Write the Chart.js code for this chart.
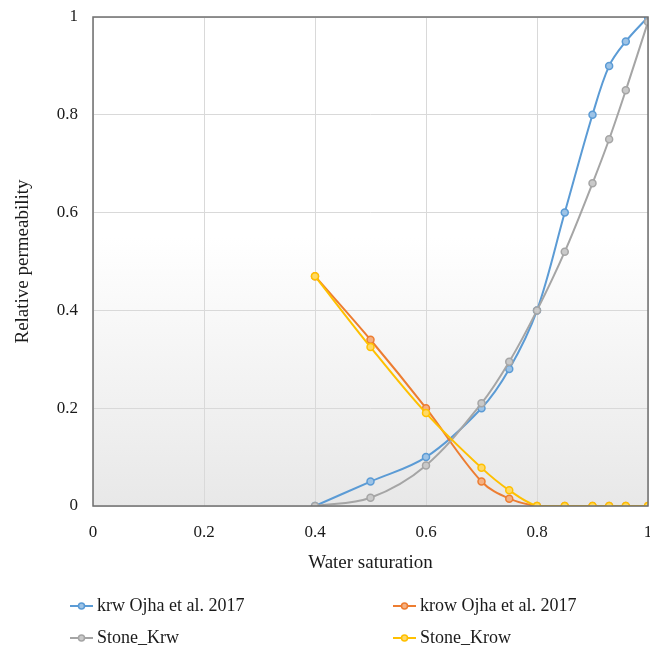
<!DOCTYPE html>
<html>
<head>
<meta charset="utf-8">
<script src="https://cdn.jsdelivr.net/npm/chart.js@4"></script>
<style>
  html, body { margin: 0; padding: 0; background: #fff; }
  #wrap { width: 650px; height: 652px; position: relative; }
</style>
</head>
<body>
<div id="wrap"><canvas id="chartPerm"></canvas></div>
<script>
const satKrw = [0.4, 0.5, 0.6, 0.7, 0.75, 0.8, 0.85, 0.9, 0.93, 0.96, 1];
const krwOjha = [0, 0.05, 0.1, 0.2, 0.28, 0.4, 0.6, 0.8, 0.9, 0.95, 1];
const krowOjha = [0.47, 0.34, 0.2, 0.05, 0.015, 0, 0, 0, 0, 0, 0];
const stoneKrw = [0, 0.017, 0.083, 0.21, 0.295, 0.4, 0.52, 0.66, 0.75, 0.85, 0.99];
const stoneKrow = [0.47, 0.325, 0.19, 0.078, 0.032, 0, 0, 0, 0, 0, 0];
const seriesNames = ["krw Ojha et al. 2017", "krow Ojha et al. 2017", "Stone_Krw", "Stone_Krow"];
const axisTicks = [0, 0.2, 0.4, 0.6, 0.8, 1];

const blueColor = "#5b9bd5";
const orangeColor = "#ed7d31";
const grayColor = "#a5a5a5";
const yellowColor = "#ffc000";
const fillColors = ["#9dc3e6", "#f4b183", "#c9c9c9", "#ffd966"];
const fontFam = "'Liberation Serif', 'Times New Roman', serif";

const toPoints = (xs, ys) => xs.map((x, i) => ({ x: x, y: ys[i] }));

function makeSet(i, values, color, order) {
  return {
    label: seriesNames[i],
    data: toPoints(satKrw, values),
    borderColor: color,
    backgroundColor: color,
    pointBackgroundColor: fillColors[i],
    pointBorderColor: color,
    pointBorderWidth: 1.5,
    pointRadius: 3.5,
    borderWidth: 2,
    tension: 0.35,
    order: order,
  };
}

function noPad(scale) {
  scale.paddingLeft = 0;
  scale.paddingRight = 0;
  scale.paddingTop = 0;
  scale.paddingBottom = 0;
}

// plot background gradient + frame
const plotBg = {
  id: "plotBg",
  beforeDraw(chart) {
    const { ctx, chartArea: a } = chart;
    const g = ctx.createLinearGradient(0, a.top, 0, a.bottom);
    g.addColorStop(0, "#ffffff");
    g.addColorStop(0.45, "#ffffff");
    g.addColorStop(1, "#e8e8e8");
    ctx.save();
    ctx.fillStyle = g;
    ctx.fillRect(a.left, a.top, a.right - a.left, a.bottom - a.top);
    ctx.restore();
  },
  afterDatasetsDraw(chart) {
    const { ctx, chartArea: a } = chart;
    ctx.save();
    ctx.strokeStyle = "#6f6f6f";
    ctx.lineWidth = 1.5;
    ctx.strokeRect(a.left, a.top, a.right - a.left, a.bottom - a.top);
    ctx.restore();
  },
};

// two column legend under the chart
const gridLegend = {
  id: "gridLegend",
  afterDraw(chart) {
    const { ctx } = chart;
    const cols = [70, 393];
    const rows = [606, 638];
    ctx.save();
    ctx.font = "18px " + fontFam;
    ctx.textBaseline = "middle";
    chart.data.datasets.forEach((ds, i) => {
      const x = cols[i % 2];
      const y = rows[Math.floor(i / 2)];
      ctx.strokeStyle = ds.borderColor;
      ctx.lineWidth = 2;
      ctx.beginPath();
      ctx.moveTo(x, y);
      ctx.lineTo(x + 23, y);
      ctx.stroke();
      ctx.beginPath();
      ctx.arc(x + 11.5, y, 3, 0, Math.PI * 2);
      ctx.fillStyle = ds.pointBackgroundColor;
      ctx.fill();
      ctx.lineWidth = 1.5;
      ctx.stroke();
      ctx.fillStyle = "#1a1a1a";
      ctx.fillText(ds.label, x + 27, y);
    });
    ctx.restore();
  },
};

const tickFmt = v => String(+Number(v).toFixed(2));

new Chart(document.getElementById("chartPerm"), {
  type: "line",
  data: {
    datasets: [
      makeSet(0, krwOjha, blueColor, 4),
      makeSet(1, krowOjha, orangeColor, 3),
      makeSet(2, stoneKrw, grayColor, 2),
      makeSet(3, stoneKrow, yellowColor, 1),
    ],
  },
  options: {
    responsive: true,
    maintainAspectRatio: false,
    animation: false,
    layout: {
      autoPadding: false,
      padding: { left: 0, top: 17, right: 2, bottom: 66 },
    },
    plugins: {
      legend: { display: false },
      tooltip: { enabled: false },
    },
    scales: {
      x: {
        type: "linear",
        min: 0,
        max: 1,
        afterFit(scale) { scale.height = 80; noPad(scale); },
        afterBuildTicks(scale) { scale.ticks = axisTicks.map(v => ({ value: v })); },
        grid: { color: "#d9d9d9", drawTicks: false },
        border: { display: false },
        ticks: {
          padding: 16,
          color: "#1a1a1a",
          font: { family: fontFam, size: 17 },
          maxRotation: 0,
          callback: tickFmt,
        },
        title: {
          display: true,
          text: "Water saturation",
          color: "#1a1a1a",
          font: { family: fontFam, size: 19 },
          padding: { top: 0, bottom: 12 },
        },
      },
      y: {
        type: "linear",
        min: 0,
        max: 1,
        afterFit(scale) { scale.width = 93; noPad(scale); },
        afterBuildTicks(scale) { scale.ticks = axisTicks.map(v => ({ value: v })); },
        grid: { color: "#d9d9d9", drawTicks: false },
        border: { display: false },
        ticks: {
          padding: 15,
          color: "#1a1a1a",
          font: { family: fontFam, size: 17 },
          callback: tickFmt,
        },
        title: {
          display: true,
          text: "Relative permeability",
          color: "#1a1a1a",
          font: { family: fontFam, size: 19 },
          padding: { top: 12, bottom: 0 },
        },
      },
    },
  },
  plugins: [plotBg, gridLegend],
});
</script>
</body>
</html>
